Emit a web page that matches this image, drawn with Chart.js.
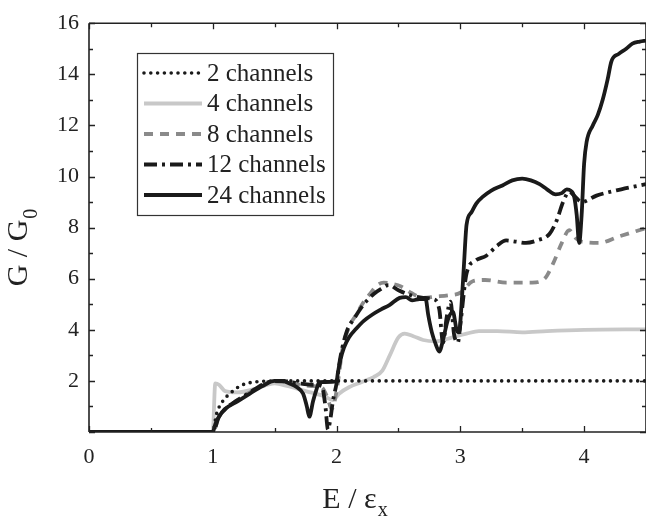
<!DOCTYPE html>
<html><head><meta charset="utf-8">
<script src="https://cdn.jsdelivr.net/npm/chart.js@4"></script>
<style>html,body{margin:0;padding:0;background:#fff;}canvas{display:block;}</style>
</head><body>
<canvas id="c" width="646" height="521"></canvas>
<script>
// ---- data ----
const xTickLabels = [0, 1, 2, 3, 4];
const yTickLabels = [2, 4, 6, 8, 10, 12, 14, 16];
const seriesNames = ["2 channels", "4 channels", "8 channels", "12 channels", "24 channels"];

const x2 = [0, 1.0, 1.03, 1.08, 1.15, 1.22, 1.3, 1.4, 1.5, 4.5];
const y2 = [0, 0, 0.7, 1.2, 1.55, 1.8, 1.93, 1.98, 2.0, 2.0];

const x4 = [0, 1.0, 1.02, 1.05, 1.1, 1.2, 1.35, 1.5, 1.6, 1.75, 1.9, 1.97, 2.02, 2.1, 2.2, 2.3, 2.37, 2.43, 2.5, 2.55, 2.62, 2.7, 2.8, 2.9, 2.97, 3.05, 3.15, 3.3, 3.5, 3.7, 4.0, 4.5];
const y4 = [0, 0, 1.9, 1.85, 1.6, 1.55, 1.7, 1.9, 1.8, 1.6, 1.4, 1.25, 1.5, 1.75, 1.95, 2.15, 2.4, 3.0, 3.7, 3.85, 3.75, 3.6, 3.55, 3.65, 3.75, 3.85, 3.95, 3.95, 3.9, 3.95, 4.0, 4.02];

const x8 = [0, 1.0, 1.05, 1.1, 1.2, 1.3, 1.4, 1.5, 1.6, 1.7, 1.8, 1.88, 1.93, 1.96, 2.0, 2.05, 2.1, 2.16, 2.22, 2.27, 2.33, 2.38, 2.45, 2.52, 2.6, 2.7, 2.8, 2.9, 3.0, 3.1, 3.2, 3.37, 3.58, 3.68, 3.75, 3.82, 3.88, 3.93, 3.98, 4.12, 4.28, 4.5];
const y8 = [0, 0, 0.6, 0.9, 1.25, 1.55, 1.8, 1.98, 1.95, 1.85, 1.8, 1.75, 1.3, 0.9, 1.6, 3.3, 4.1, 4.6, 5.1, 5.4, 5.75, 5.85, 5.8, 5.7, 5.45, 5.25, 5.3, 5.35, 5.45, 5.9, 5.95, 5.85, 5.85, 6.0, 6.6, 7.4, 7.9, 7.6, 7.45, 7.4, 7.65, 7.98];

const x12 = [0, 1.0, 1.05, 1.1, 1.2, 1.3, 1.4, 1.5, 1.6, 1.7, 1.8, 1.88, 1.91, 1.93, 1.95, 1.97, 2.0, 2.03, 2.08, 2.15, 2.22, 2.3, 2.36, 2.42, 2.5, 2.6, 2.7, 2.78, 2.83, 2.86, 2.89, 2.92, 2.95, 2.98, 3.0, 3.05, 3.12, 3.21, 3.3, 3.37, 3.45, 3.53, 3.62, 3.72, 3.78, 3.83, 3.88, 3.93, 3.98, 4.1, 4.3, 4.5];
const y12 = [0, 0, 0.6, 0.9, 1.25, 1.55, 1.85, 2.0, 1.98, 1.9, 1.85, 1.8, 1.0, 0.1, 0.5, 1.2, 1.9, 2.9, 3.9, 4.5, 5.0, 5.4, 5.6, 5.75, 5.55, 5.35, 5.25, 5.2, 4.8, 3.5, 4.5, 5.1, 3.8, 3.5, 4.2, 6.2, 6.7, 6.9, 7.3, 7.5, 7.45, 7.4, 7.5, 7.75, 8.3, 9.0, 9.4, 9.2, 9.0, 9.25, 9.5, 9.7];

const x24 = [0, 1.0, 1.02, 1.05, 1.1, 1.2, 1.3, 1.4, 1.5, 1.56, 1.62, 1.68, 1.73, 1.76, 1.78, 1.81, 1.84, 1.86, 2.0, 2.01, 2.03, 2.06, 2.1, 2.16, 2.22, 2.29, 2.36, 2.43, 2.51, 2.56, 2.61, 2.67, 2.72, 2.74, 2.77, 2.8, 2.83, 2.86, 2.9, 2.94, 2.97, 2.99, 3.01, 3.03, 3.05, 3.09, 3.13, 3.18, 3.25, 3.34, 3.42, 3.5, 3.57, 3.64, 3.7, 3.77, 3.82, 3.86, 3.89, 3.92, 3.94, 3.96, 3.98, 4.0, 4.02, 4.07, 4.11, 4.15, 4.19, 4.22, 4.28, 4.34, 4.39, 4.45, 4.5];
const y24 = [0, 0, 0.3, 0.6, 0.9, 1.2, 1.5, 1.8, 2.0, 2.0, 1.9, 1.75, 1.5, 1.0, 0.6, 1.2, 1.7, 1.95, 1.98, 2.3, 2.8, 3.3, 3.7, 4.05, 4.35, 4.6, 4.8, 4.98, 5.25, 5.28, 5.15, 5.2, 5.2, 4.6, 3.9, 3.45, 3.15, 3.6, 4.4, 4.7, 4.0, 3.9, 5.0, 6.6, 8.1, 8.6, 8.95, 9.2, 9.45, 9.65, 9.85, 9.92, 9.85, 9.7, 9.5, 9.3, 9.35, 9.5, 9.45, 9.2, 8.5, 7.4, 8.5, 10.5, 11.35, 12.0, 12.4, 13.0, 13.8, 14.5, 14.8, 15.0, 15.2, 15.28, 15.32];

const pts = (xs, ys) => xs.map((x, i) => ({x: x, y: ys[i]}));
const SERIF = "'Liberation Serif', 'Times New Roman', serif";

const styles = [
  {color: '#1a1a1a', width: 3.6, dash: [0, 6.8], cap: 'round'},
  {color: '#c8c8c8', width: 3.8, dash: [], cap: 'butt'},
  {color: '#8a8a8a', width: 3.8, dash: [9, 7], cap: 'butt'},
  {color: '#1a1a1a', width: 3.8, dash: [13, 5, 3, 5], cap: 'butt'},
  {color: '#1a1a1a', width: 3.8, dash: [], cap: 'butt'}
];
const seriesData = [pts(x2, y2), pts(x4, y4), pts(x8, y8), pts(x12, y12), pts(x24, y24)];

const datasets = seriesNames.map((n, i) => ({
  label: n, data: seriesData[i],
  borderColor: styles[i].color, borderWidth: styles[i].width,
  borderDash: styles[i].dash, borderCapStyle: styles[i].cap, borderJoinStyle: 'round',
  pointRadius: 0, fill: false, cubicInterpolationMode: 'monotone'
}));

// draw order: 4ch under others
const order = [1, 2, 0, 3, 4];
order.forEach((idx, k) => { datasets[idx].order = 10 - k; });

const frame = {
  id: 'frame',
  afterDraw(chart) {
    const ctx = chart.ctx, a = chart.chartArea;
    const xs = chart.scales.x, ys = chart.scales.y;
    ctx.save();
    ctx.strokeStyle = '#222'; ctx.lineWidth = 1.6;
    ctx.beginPath();
    ctx.moveTo(a.left, a.top); ctx.lineTo(a.right, a.top);
    ctx.moveTo(a.left, a.top); ctx.lineTo(a.left, a.bottom);
    ctx.moveTo(a.left, a.bottom); ctx.lineTo(a.right, a.bottom);
    ctx.moveTo(a.right, a.top); ctx.lineTo(a.right, a.bottom);
    ctx.stroke();
    ctx.lineWidth = 1.3;
    ctx.beginPath();
    for (let v = 0; v <= 4.5001; v += 0.5) {
      const px = Math.round(xs.getPixelForValue(v)) + 0.5;
      const L = (Math.abs(v - Math.round(v)) < 1e-6) ? 6 : 4;
      ctx.moveTo(px, a.bottom); ctx.lineTo(px, a.bottom - L);
      ctx.moveTo(px, a.top); ctx.lineTo(px, a.top + L);
    }
    for (let v = 0; v <= 16; v += 1) {
      const py = Math.round(ys.getPixelForValue(v)) + 0.5;
      const L = (v % 2 === 0) ? 6 : 4;
      ctx.moveTo(a.left, py); ctx.lineTo(a.left + L, py);
      ctx.moveTo(a.right, py); ctx.lineTo(a.right - L, py);
    }
    ctx.stroke();

    // axis titles
    ctx.fillStyle = '#222';
    ctx.textBaseline = 'alphabetic';
    ctx.textAlign = 'left';
    ctx.font = '30px ' + SERIF;
    const t1 = 'E / \u03b5';
    const w1 = ctx.measureText(t1).width;
    ctx.font = '20px ' + SERIF;
    const w1s = ctx.measureText('x').width;
    const cx = (a.left + a.right) / 2 - 13;
    const x0 = cx - (w1 + w1s) / 2;
    ctx.font = '30px ' + SERIF;
    ctx.fillText(t1, x0, 508);
    ctx.font = '20px ' + SERIF;
    ctx.fillText('x', x0 + w1 + 1, 516);

    ctx.save();
    ctx.translate(27, 248);
    ctx.rotate(-Math.PI / 2);
    ctx.font = '30px ' + SERIF;
    const t2 = 'G / G';
    const w2 = ctx.measureText(t2).width;
    ctx.font = '20px ' + SERIF;
    const w2s = ctx.measureText('0').width;
    const y0 = -(w2 + w2s) / 2;
    ctx.font = '30px ' + SERIF;
    ctx.fillText(t2, y0, 0);
    ctx.font = '20px ' + SERIF;
    ctx.fillText('0', y0 + w2 + 1, 10);
    ctx.restore();

    // legend
    const bx = 137.5, by = 53.5, bw = 196, bh = 162;
    ctx.lineWidth = 1.2; ctx.strokeStyle = '#333';
    ctx.strokeRect(bx, by, bw, bh);
    const rows = [73, 103.5, 134, 164.5, 195];
    seriesNames.forEach((n, i) => {
      const s = styles[i];
      ctx.save();
      ctx.strokeStyle = s.color; ctx.lineWidth = s.width;
      ctx.setLineDash(s.dash); ctx.lineCap = s.cap;
      ctx.beginPath(); ctx.moveTo(144, rows[i]); ctx.lineTo(202, rows[i]); ctx.stroke();
      ctx.restore();
      ctx.fillStyle = '#222';
      ctx.font = '25px ' + SERIF;
      ctx.textBaseline = 'middle';
      ctx.fillText(n, 207, rows[i] + 1);
    });
    ctx.restore();
  }
};

new Chart(document.getElementById('c'), {
  type: 'line',
  data: {datasets: datasets},
  options: {
    responsive: false, animation: false, devicePixelRatio: 1,
    layout: {padding: {top: 16, right: 0, left: 0, bottom: 0}},
    plugins: {legend: {display: false}, tooltip: {enabled: false}},
    scales: {
      x: {
        type: 'linear', min: 0, max: 4.5,
        afterBuildTicks: s => { s.ticks = xTickLabels.map(v => ({value: v})); },
        afterFit: s => { s.height = 89; },
        grid: {display: false, drawTicks: false}, border: {display: false},
        ticks: {padding: 12, color: '#222', font: {family: SERIF, size: 22}, maxRotation: 0}
      },
      y: {
        type: 'linear', min: 0, max: 16,
        afterBuildTicks: s => { s.ticks = yTickLabels.map(v => ({value: v})); },
        afterFit: s => { s.width = 89; },
        grid: {display: false, drawTicks: false}, border: {display: false},
        ticks: {padding: 10, color: '#222', font: {family: SERIF, size: 22}}
      }
    }
  },
  plugins: [frame]
});
</script>
</body></html>
